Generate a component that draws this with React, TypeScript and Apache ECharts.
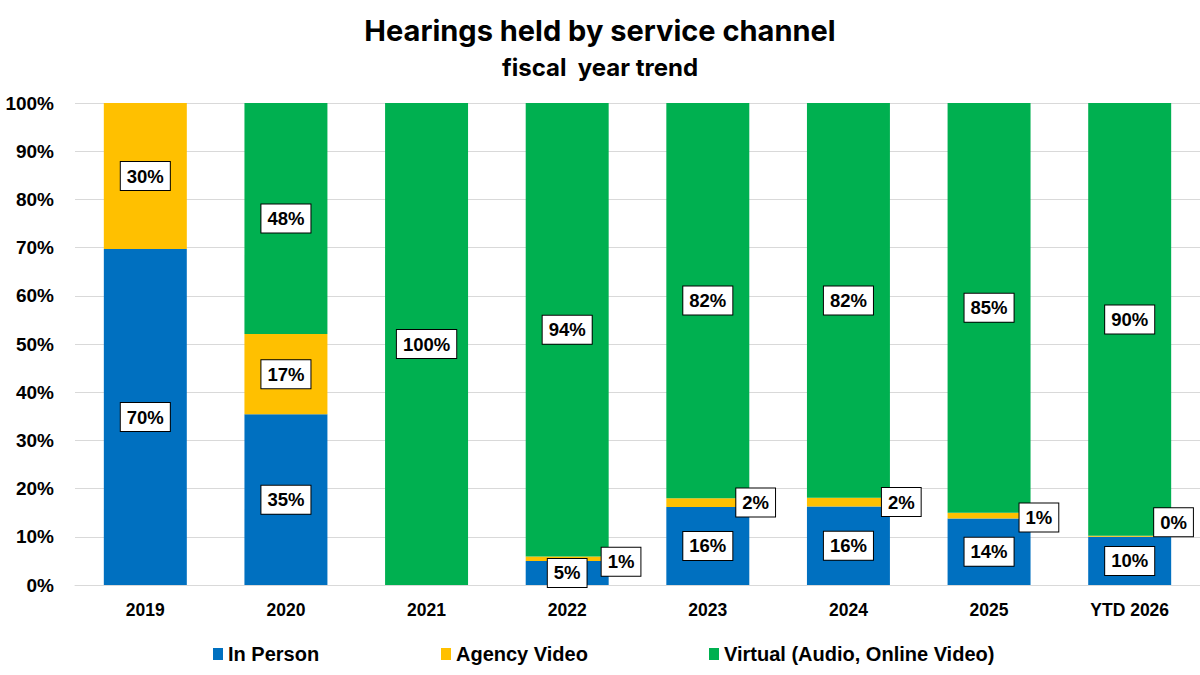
import React, { useEffect, useRef } from "react";
import * as echarts from "echarts";

const categories = ["2019", "2020", "2021", "2022", "2023", "2024", "2025", "YTD 2026"];
const inPerson = [69.7, 35.4, 0, 5, 16.2, 16.3, 13.8, 10];
const agencyVideo = [30.3, 16.7, 0, 0.9, 1.8, 1.8, 1.2, 0.2];
const virtualAV = [0, 47.9, 100, 94.1, 82, 81.9, 85, 89.8];
const inPersonLabels = ["70%", "35%", "", "5%", "16%", "16%", "14%", "10%"];
const agencyLabels = ["30%", "17%", "", "1%", "2%", "2%", "1%", "0%"];
const virtualLabels = ["", "48%", "100%", "94%", "82%", "82%", "85%", "90%"];
// manual label placement for the thin agency segments (x, y offsets)
const agencyOffsets: Array<[number, number] | null> = [null, null, null, [-12, 3], [-18, 0], [-13, 0], [-16, 2], [-22, -14]];

const COLORS = { blue: "#0070C0", yellow: "#FFC000", green: "#00B050" };

const labelBase = {
  show: true,
  color: "#000",
  fontFamily: "Liberation Sans, Arial, sans-serif",
  fontWeight: "bold" as const,
  fontSize: 18.5,
  backgroundColor: "#fff",
  borderColor: "#000",
  borderWidth: 1,
  padding: [5, 6, 4, 6],
};

export default function App() {
  const ref = useRef<HTMLDivElement>(null);
  useEffect(() => {
    if (!ref.current) return;
    const chart = echarts.init(ref.current, null, { renderer: "svg" });
    const mk = (vals: number[], labels: string[]) =>
      vals.map((v, i) => ({ value: v, label: { ...labelBase, show: labels[i] !== "", formatter: labels[i] } }));

    const agencyData = agencyVideo.map((v, i) => {
      const off = agencyOffsets[i];
      const lbl: any = { ...labelBase, show: agencyLabels[i] !== "", formatter: agencyLabels[i] };
      if (off) {
        lbl.position = "right";
        lbl.distance = 5;
        lbl.offset = off;
      }
      return { value: v, label: lbl };
    });

    const legendText = {
      fontFamily: "Liberation Sans Narrow, Arial Narrow, sans-serif",
      fontWeight: "bold" as const,
      fontSize: 20,
      color: "#000",
    };
    const legendCommon = {
      top: 639,
      itemWidth: 10,
      itemHeight: 12,
      itemGap: 4,
      icon: "rect",
      textStyle: legendText,
    };

    chart.setOption({
      animation: false,
      title: [
        {
          text: "Hearings held by service channel",
          left: "center",
          top: 11,
          textStyle: { fontFamily: "Inter, sans-serif", fontWeight: "bold", fontSize: 29, color: "#000" },
        },
        {
          text: "fiscal  year trend",
          left: "center",
          top: 50,
          textStyle: { fontFamily: "Inter, sans-serif", fontWeight: "bold", fontSize: 24, color: "#000" },
        },
      ],
      legend: [
        { ...legendCommon, left: 208, data: ["In Person"] },
        { ...legendCommon, left: 436, data: ["Agency Video"] },
        { ...legendCommon, left: 704, data: ["Virtual (Audio, Online Video)"] },
      ],
      grid: { left: 75, right: 0, top: 103, bottom: 90, containLabel: false },
      xAxis: {
        type: "category",
        data: categories,
        axisTick: { show: false },
        axisLine: { lineStyle: { color: "#d9d9d9" } },
        axisLabel: {
          margin: 16,
          color: "#000",
          fontFamily: "Liberation Sans, Arial, sans-serif",
          fontWeight: "bold",
          fontSize: 17.5,
        },
      },
      yAxis: {
        type: "value",
        min: 0,
        max: 100,
        interval: 10,
        axisLabel: {
          formatter: "{value}%",
          margin: 21,
          color: "#000",
          fontFamily: "Liberation Sans, Arial, sans-serif",
          fontWeight: "bold",
          fontSize: 19,
        },
        splitLine: { lineStyle: { color: "#d9d9d9" } },
        axisLine: { show: false },
        axisTick: { show: false },
      },
      series: [
        {
          name: "In Person",
          type: "bar",
          stack: "total",
          barWidth: "59%",
          itemStyle: { color: COLORS.blue },
          data: mk(inPerson, inPersonLabels),
        },
        {
          name: "Agency Video",
          type: "bar",
          stack: "total",
          itemStyle: { color: COLORS.yellow },
          data: agencyData,
        },
        {
          name: "Virtual (Audio, Online Video)",
          type: "bar",
          stack: "total",
          itemStyle: { color: COLORS.green },
          data: mk(virtualAV, virtualLabels),
        },
      ],
    });
    return () => chart.dispose();
  }, []);
  return <div ref={ref} style={{ width: 1200, height: 675, position: "absolute", left: 0, top: 0 }} />;
}
